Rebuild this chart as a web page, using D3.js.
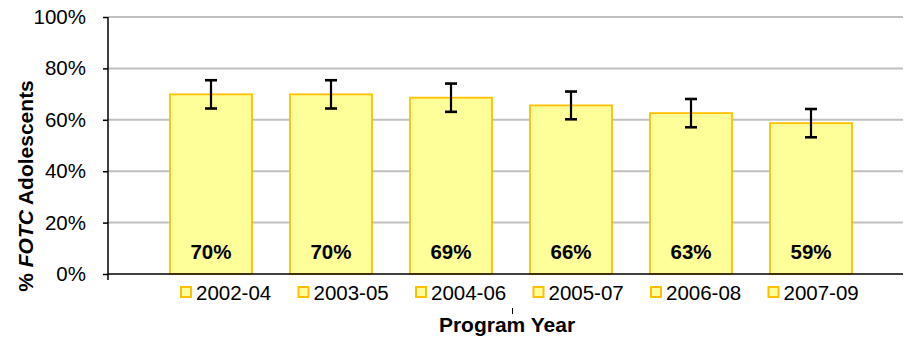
<!DOCTYPE html>
<html><head><meta charset="utf-8">
<script src="https://cdn.jsdelivr.net/npm/d3@7"></script>
<style>body{margin:0;background:#fff}svg{display:block}text{font-family:"Liberation Sans",Arial,sans-serif}</style>
</head><body><svg id="c" width="904" height="341"></svg>
<script>
const series = ["2002-04","2003-05","2004-06","2005-07","2006-08","2007-09"];
const values = [69.9, 69.9, 68.6, 65.6, 62.6, 58.7];
const errors = [5.5, 5.5, 5.5, 5.4, 5.5, 5.5];
const yTicks = [0, 20, 40, 60, 80, 100];

const svg = d3.select("#c");
const x0 = 108, x1 = 903, yTop = 17, yBot = 274;
const y = d3.scaleLinear().domain([0,100]).range([yBot, yTop]);
const x = d3.scaleBand().domain(series).range([151, 871]).paddingInner(0.3167).paddingOuter(0.1583);

// gridlines
svg.append("g").selectAll("line").data(yTicks.filter(d=>d>0)).join("line")
  .attr("x1", x0).attr("x2", x1).attr("y1", d=>y(d)).attr("y2", d=>y(d))
  .attr("stroke", "#c0c0c0").attr("stroke-width", 2);

// y axis
const yAxis = d3.axisLeft(y).tickValues(yTicks).tickSize(5).tickPadding(17).tickFormat(d=>d+"%");
const ga = svg.append("g").attr("transform", `translate(${x0},0)`).call(yAxis);
ga.select(".domain").attr("d", `M0,${yTop}V${yBot+6}`).attr("stroke","#000").attr("stroke-width",1.5);
ga.selectAll(".tick line").attr("stroke","#000").attr("stroke-width",1.5);
ga.selectAll(".tick text").attr("font-size", 20.5).attr("fill","#000").attr("font-family",'"Liberation Sans",Arial,sans-serif');

// bars
svg.append("g").selectAll("rect").data(series).join("rect")
  .attr("x", d=>x(d)).attr("width", x.bandwidth())
  .attr("y", (d,i)=>y(values[i])).attr("height", (d,i)=>yBot - y(values[i]))
  .attr("fill", "#ffff99").attr("stroke", "#ffc000").attr("stroke-width", 1.8);

// x axis line
svg.append("line").attr("x1", x0).attr("x2", x1).attr("y1", yBot).attr("y2", yBot)
  .attr("stroke", "#000").attr("stroke-width", 1.5);

// error bars
const eb = svg.append("g").attr("stroke","#000").attr("stroke-width",2.2);
series.forEach((s,i)=>{
  const cx = x(s) + x.bandwidth()/2;
  const hi = y(values[i]+errors[i]), lo = y(values[i]-errors[i]);
  eb.append("line").attr("x1",cx).attr("x2",cx).attr("y1",hi).attr("y2",lo);
  eb.append("line").attr("x1",cx-6).attr("x2",cx+6).attr("y1",hi).attr("y2",hi).attr("stroke-width",2.6);
  eb.append("line").attr("x1",cx-6).attr("x2",cx+6).attr("y1",lo).attr("y2",lo).attr("stroke-width",2.6);
});

// value labels
svg.append("g").selectAll("text").data(series).join("text")
  .attr("x", d=>x(d)+x.bandwidth()/2).attr("y", 258.5)
  .attr("text-anchor","middle").attr("font-size",20.5).attr("font-weight","bold")
  .text((d,i)=>Math.round(values[i])+"%");

// legend
const lg = svg.append("g");
series.forEach((s,i)=>{
  const lx = 181 + i*117.5;
  lg.append("rect").attr("x", lx).attr("y", 287).attr("width", 10).attr("height", 10)
    .attr("fill","#ffff99").attr("stroke","#ffc000").attr("stroke-width",2);
  lg.append("text").attr("x", lx+15).attr("y", 299.5).attr("font-size", 20.5).text(s);
});

// category tick
svg.append("line").attr("x1",512.5).attr("x2",512.5).attr("y1",308).attr("y2",314).attr("stroke","#000").attr("stroke-width",1);

// axis titles
svg.append("text").attr("x", 507).attr("y", 332).attr("text-anchor","middle")
  .attr("font-size",21).attr("font-weight","bold").text("Program Year");
const yt = svg.append("text").attr("transform","translate(33,186) rotate(-90)")
  .attr("text-anchor","middle").attr("font-size",21).attr("font-weight","bold");
yt.append("tspan").text("% ");
yt.append("tspan").attr("font-style","italic").text("FOTC");
yt.append("tspan").text(" Adolescents");
</script></body></html>
